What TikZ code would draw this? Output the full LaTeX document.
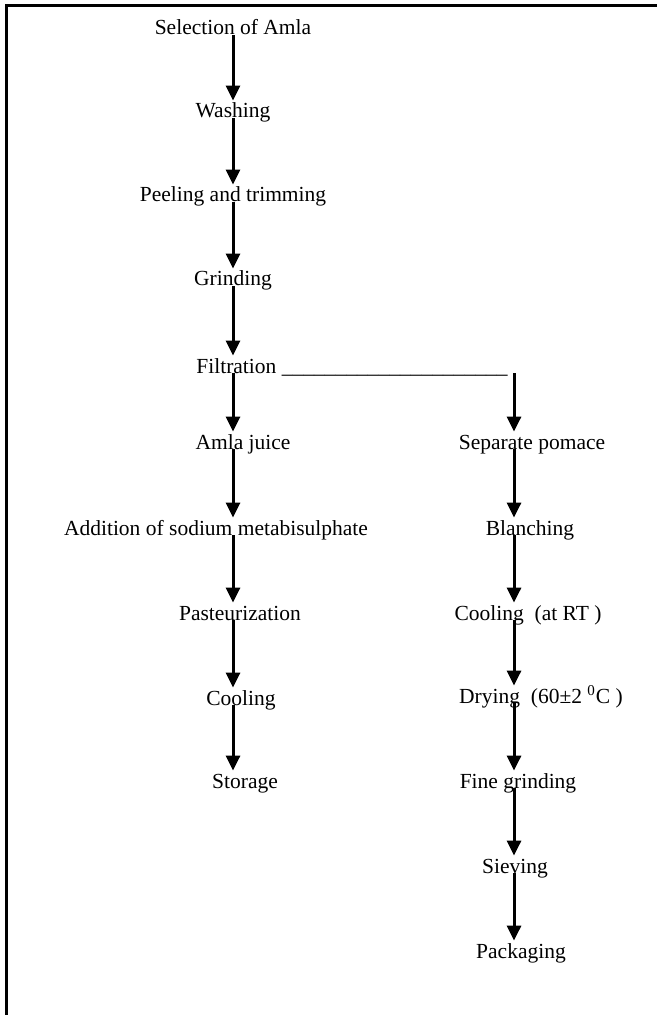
\documentclass[tikz,border=0pt]{standalone}
\usepackage{fontspec}
\setmainfont{Liberation Serif}
\usetikzlibrary{arrows.meta}
\tikzset{
	stage/.style={inner sep=0pt, text height=8.5pt, text depth=0pt, anchor=base},
	flow/.style={line width=1.5pt, -{Triangle[width=7pt,length=7.5pt]}},
	frame/.style={line width=1.5pt}
}
\begin{document}
\begin{tikzpicture}[x=0.5pt, y=-0.5pt, font=\fontsize{10.75}{13}\selectfont]
			\useasboundingbox (0,0) rectangle (657,1015);
			\draw[frame] (657,6) -- (6,6) -- (6,1015);
			\coordinate (lx) at (233,0);
			\coordinate (rx) at (514,0);
			\node[stage] (s1) at (233,35) {Selection of Amla};
			\node[stage] (s2) at (233,118) {Washing};
			\node[stage] (s3) at (233,202) {Peeling and trimming};
			\node[stage] (s4) at (233,286) {Grinding};
			\node[stage, anchor=base west] (s5) at (196,373) {Filtration \_\_\_\_\_\_\_\_\_\_\_\_\_\_\_\_\_\_\_\_\_};
			\node[stage] (s6) at (243,449) {Amla juice};
			\node[stage] (s7) at (216,535) {Addition of sodium metabisulphate};
			\node[stage] (s8) at (240,620) {Pasteurization};
			\node[stage] (s9) at (241,705) {Cooling};
			\node[stage] (s10) at (245,788) {Storage};
			\node[stage] (p1) at (532,449) {Separate pomace};
			\node[stage] (p2) at (530,535) {Blanching};
			\node[stage] (p3) at (528,620) {Cooling\ \ (at RT )};
			\node[stage] (p4) at (541,703) {Drying\ \ (60±2 \textsuperscript{0}C )};
			\node[stage] (p5) at (518,788) {Fine grinding};
			\node[stage] (p6) at (515,873) {Sieving};
			\node[stage] (p7) at (521,958) {Packaging};
			\foreach \a/\b in {s1/s2, s2/s3, s3/s4, s4/s5, s5/s6, s6/s7, s7/s8, s8/s9, s9/s10}
				\draw[flow] (\a.south -| lx) -- (\b.north -| lx);
			\draw[flow] (s5.south -| rx) -- (p1.north -| rx);
			\foreach \a/\b in {p1/p2, p2/p3, p3/p4, p4/p5, p5/p6, p6/p7}
				\draw[flow] (\a.south -| rx) -- (\b.north -| rx);
		\end{tikzpicture}
\end{document}
